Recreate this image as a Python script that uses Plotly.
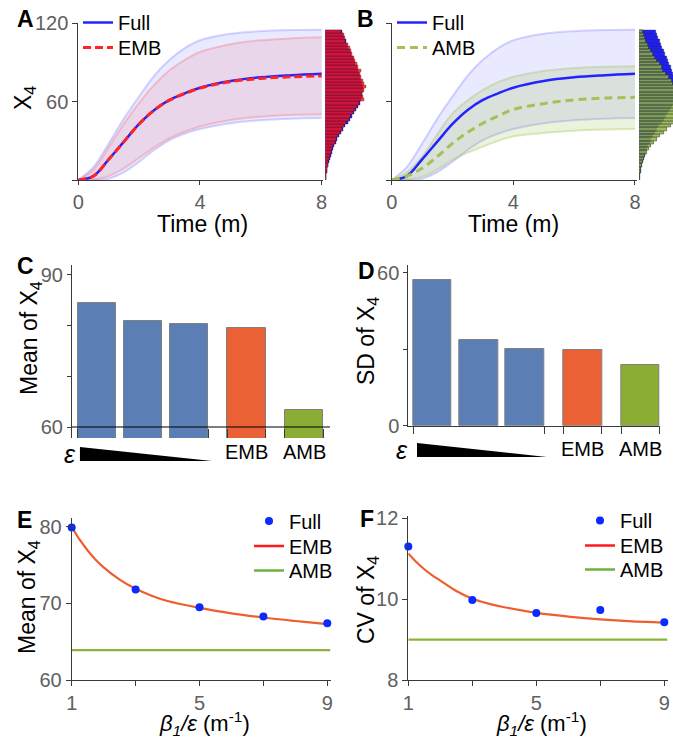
import plotly.graph_objects as go

W, H = 673, 738

# ---------------- data ----------------
T = [0, 0.5, 1, 1.5, 2, 2.5, 3, 3.5, 4, 5, 6, 7, 8]
FULL_MEAN = [0, 3, 15.8, 29.4, 42.9, 53.6, 61.3, 66.4, 70.7, 75.8, 78.6, 80.2, 81.4]
FULL_UPPER = [0, 10, 28, 47, 64, 80, 92, 101, 107, 112, 114, 114.8, 115]
FULL_LOWER = [0, 0, 1, 6, 14, 23, 30.5, 35.5, 39, 43.5, 45.8, 47, 47.4]
EMB_MEAN = [0, 3, 15.8, 29.4, 42.9, 53.6, 61.2, 66.2, 70.4, 75.3, 77.8, 79.0, 79.7]
EMB_UPPER = [0, 8, 25, 43, 59, 73, 84, 92, 98, 104, 107, 108.5, 109.3]
EMB_LOWER = [0, 0.5, 3, 9, 17, 25, 32, 37, 41, 46, 48.5, 49.8, 50.3]
AMB_MEAN = [0, 3, 9, 18, 28, 36.5, 43.5, 49, 54, 58.5, 61.3, 62.7, 63.3]
AMB_UPPER = [0, 6, 18, 35, 51, 61, 69, 75, 79, 83.5, 85.8, 86.8, 87.2]
AMB_LOWER = [0, 0.5, 2.6, 8, 15.4, 21, 25.6, 30, 33.3, 36, 37.7, 38.6, 39]

# histogram of X4 at t = 8 (bin centres, bottom to top) and bar lengths
HIST_BINS = [1.25, 3.75, 6.25, 8.75, 11.25, 13.75, 16.25, 18.75, 21.25, 23.75,
             26.25, 28.75, 31.25, 33.75, 36.25, 38.75, 41.25, 43.75, 46.25, 48.75,
             51.25, 53.75, 56.25, 58.75, 61.25, 63.75, 66.25, 68.75, 71.25, 73.75,
             76.25, 78.75, 81.25, 83.75, 86.25, 88.75, 91.25, 93.75, 96.25, 98.75,
             101.25, 103.75, 106.25, 108.75, 111.25, 113.75]
HIST_FULL = [0.5, 1, 1.5, 2, 2.5, 3.5, 4.5, 5.5, 6.5, 7.5, 9, 10.5, 12, 14, 16, 18,
             20, 22.5, 25, 27, 29, 31, 33, 35, 36, 36.5, 37, 37.5, 37.5, 37, 36, 35,
             34, 33, 31.5, 30, 29, 27.5, 26, 25, 23, 22, 20.5, 19, 18, 16.5]
HIST_EMB = [0.5, 1, 1.5, 2, 2.5, 3, 4, 5, 6, 7, 8, 9.5, 11, 12.5, 14.5, 16.5,
            18.5, 21, 23.5, 25, 27.5, 30, 32, 34, 38.5, 38, 37, 39, 40.5, 39, 38, 36,
            34.5, 36, 33, 32, 30, 28.5, 27, 26, 25, 23, 20, 20, 18.5, 15.5]
HIST_AMB = [0.5, 1, 1.5, 2, 2.5, 3.5, 4.5, 6, 7.5, 9.5, 12, 15, 18, 21, 25, 28,
            32, 35, 38, 40, 42, 43, 43.5, 43, 42, 41, 40, 38, 36, 34.3, 32.7, 30.3,
            27, 24.3, 22.7, 21, 17.7, 16, 14.3, 11.7, 10.3, 9.3, 6.7, 6, 5.3, 4.3]

BAR_LABELS = ["ε1", "ε2", "ε3", "EMB", "AMB"]
BAR_POS = [0, 1, 2, 3.25, 4.5]
MEAN_X4 = [84.5, 80.9, 80.3, 79.5, 63.4]
SD_X4 = [57.3, 33.6, 30.1, 29.7, 23.9]

RATIO_FULL = [1, 3, 5, 7, 9]
MEAN_FULL = [79.9, 71.8, 69.5, 68.3, 67.4]
CV_FULL = [11.30, 9.98, 9.66, 9.73, 9.43]
RATIO_CURVE = [1, 1.25, 1.5, 1.75, 2, 2.5, 3, 3.5, 4, 5, 6, 7, 8, 9, 9.1]
MEAN_EMB = [80.0, 78.3, 76.9, 75.7, 74.7, 73.1, 71.9, 71.0, 70.3, 69.4, 68.7, 68.15, 67.7, 67.3, 67.27]
CV_EMB = [11.13, 10.92, 10.74, 10.59, 10.46, 10.20, 10.01, 9.89, 9.80, 9.66, 9.57, 9.50, 9.45, 9.42, 9.415]
RATIO_SPAN = [1, 9.1]
MEAN_AMB = 63.9
CV_AMB = 9.0

# ---------------- style ----------------
FONT = "Liberation Sans, Arial, Helvetica, sans-serif"
TXT_GRAY = "#606060"
AX = "#3a3a3a"
BLUE = "#2323ff"
RED = "#ff2323"
GREEN_DASH = "#a3c253"
BAR_BLUE = "#5b7fb4"
BAR_RED = "#ea6136"
BAR_GREEN = "#8bad34"
CURVE_RED = "#ee5e2f"
CURVE_GREEN = "#8ab43c"
BAR_W = 0.83


def dx(px):
    return px / W


def dy(py):
    return 1 - py / H


fig = go.Figure()


def band(x, lo, hi, line_c, fill_c, xa, ya):
    fig.add_trace(go.Scatter(x=x, y=lo, mode="lines", line=dict(color=line_c, width=2, shape="spline"),
                             showlegend=False, hoverinfo="skip", xaxis=xa, yaxis=ya))
    fig.add_trace(go.Scatter(x=x, y=hi, mode="lines", line=dict(color=line_c, width=2, shape="spline"),
                             fill="tonexty", fillcolor=fill_c, showlegend=False, hoverinfo="skip",
                             xaxis=xa, yaxis=ya))


# ---- panel A ----
band(T, FULL_LOWER, FULL_UPPER, "rgba(70,70,255,0.22)", "rgba(70,70,255,0.12)", "x", "y")
band(T, EMB_LOWER, EMB_UPPER, "rgba(255,70,70,0.25)", "rgba(235,80,80,0.12)", "x", "y")
fig.add_trace(go.Scatter(x=T, y=FULL_MEAN, mode="lines", name="Full", line=dict(color=BLUE, width=2.5, shape="spline"),
                         xaxis="x", yaxis="y", legend="legend"))
fig.add_trace(go.Scatter(x=T, y=EMB_MEAN, mode="lines", name="EMB",
                         line=dict(color=RED, width=3, dash="8px,4px", shape="spline"),
                         xaxis="x", yaxis="y", legend="legend2"))
fig.add_trace(go.Bar(y=HIST_BINS, x=HIST_FULL, orientation="h", width=2.5, showlegend=False,
                     marker=dict(color="#1f1fff", line=dict(color="rgba(40,40,60,0.6)", width=0.6)),
                     xaxis="x2", yaxis="y2"))
fig.add_trace(go.Bar(y=HIST_BINS, x=HIST_EMB, orientation="h", width=2.5, showlegend=False, opacity=0.8,
                     marker=dict(color="#ff1010", line=dict(color="rgba(40,20,20,0.6)", width=0.6)),
                     xaxis="x2", yaxis="y2"))

# ---- panel B ----
band(T, FULL_LOWER, FULL_UPPER, "rgba(70,70,255,0.22)", "rgba(70,70,255,0.12)", "x3", "y3")
band(T, AMB_LOWER, AMB_UPPER, "rgba(150,190,60,0.3)", "rgba(150,190,60,0.18)", "x3", "y3")
fig.add_trace(go.Scatter(x=T, y=FULL_MEAN, mode="lines", name="Full", line=dict(color=BLUE, width=2.5, shape="spline"),
                         xaxis="x3", yaxis="y3", legend="legend3"))
fig.add_trace(go.Scatter(x=T, y=AMB_MEAN, mode="lines", name="AMB",
                         line=dict(color=GREEN_DASH, width=3, dash="8px,5px", shape="spline"),
                         xaxis="x3", yaxis="y3", legend="legend4"))
fig.add_trace(go.Bar(y=HIST_BINS, x=HIST_FULL, orientation="h", width=2.5, showlegend=False,
                     marker=dict(color="#1f1fff", line=dict(color="rgba(40,40,60,0.6)", width=0.6)),
                     xaxis="x4", yaxis="y4"))
fig.add_trace(go.Bar(y=HIST_BINS, x=HIST_AMB, orientation="h", width=2.5, showlegend=False, opacity=0.85,
                     marker=dict(color="#8fb040", line=dict(color="rgba(40,50,30,0.8)", width=0.8)),
                     xaxis="x4", yaxis="y4"))

# ---- panels C, D ----
BAR_COLORS = [BAR_BLUE, BAR_BLUE, BAR_BLUE, BAR_RED, BAR_GREEN]
fig.add_trace(go.Bar(x=BAR_POS, y=MEAN_X4, width=BAR_W, marker=dict(color=BAR_COLORS, line=dict(color="#808080", width=1)),
                     showlegend=False, hovertext=BAR_LABELS, xaxis="x5", yaxis="y5"))
fig.add_trace(go.Bar(x=BAR_POS, y=SD_X4, width=BAR_W, marker=dict(color=BAR_COLORS, line=dict(color="#808080", width=1)),
                     showlegend=False, hovertext=BAR_LABELS, xaxis="x6", yaxis="y6"))

# ---- panels E, F ----
for xa, ya, full, emb, amb, lgs in [("x7", "y7", MEAN_FULL, MEAN_EMB, MEAN_AMB, ("legend5", "legend6", "legend7")),
                                    ("x8", "y8", CV_FULL, CV_EMB, CV_AMB, ("legend8", "legend9", "legend10"))]:
    fig.add_trace(go.Scatter(x=RATIO_SPAN, y=[amb, amb], mode="lines", line=dict(color=CURVE_GREEN, width=2.2),
                             showlegend=False, xaxis=xa, yaxis=ya))
    fig.add_trace(go.Scatter(x=RATIO_CURVE, y=emb, mode="lines",
                             line=dict(color=CURVE_RED, width=2.2, shape="spline", smoothing=1.0),
                             showlegend=False, xaxis=xa, yaxis=ya))
    fig.add_trace(go.Scatter(x=RATIO_FULL, y=full, mode="markers", name="Full",
                             marker=dict(color="#0a2bff", size=8), cliponaxis=False,
                             xaxis=xa, yaxis=ya, legend=lgs[0]))
    fig.add_trace(go.Scatter(x=[None], y=[None], mode="lines", name="EMB", line=dict(color="#ff1a1a", width=2.5),
                             xaxis=xa, yaxis=ya, legend=lgs[1]))
    fig.add_trace(go.Scatter(x=[None], y=[None], mode="lines", name="AMB", line=dict(color="#6db33f", width=2.5),
                             xaxis=xa, yaxis=ya, legend=lgs[2]))

# ---------------- axes ----------------
tickfont = dict(size=20, color=TXT_GRAY, family=FONT)
base = dict(showgrid=False, zeroline=False, linecolor=AX, linewidth=1, tickcolor=AX, tickwidth=1,
            tickfont=tickfont, ticks="outside", ticklen=5, showline=True, fixedrange=True, automargin=False)
hidden = dict(visible=False, showgrid=False, zeroline=False, fixedrange=True)

edges = [BAR_POS[0] - BAR_W / 2, BAR_POS[2] + BAR_W / 2,
         BAR_POS[3] - BAR_W / 2, BAR_POS[3] + BAR_W / 2,
         BAR_POS[4] - BAR_W / 2, BAR_POS[4] + BAR_W / 2]


def minor(vals, length, side="outside"):
    return dict(tickmode="array", tickvals=vals, ticks=side, ticklen=length, tickcolor=AX, tickwidth=1, showgrid=False)


layout_axes = dict(
    xaxis=dict(base, domain=[dx(78.3), dx(323.2)], range=[0, 8.05], tickvals=[0, 4, 8], ticklen=4, anchor="y"),
    yaxis=dict(base, domain=[dy(180), dy(23.3)], range=[0, 120], tickvals=[60, 120],
               minor=minor([0], 5), anchor="x"),
    xaxis2=dict(hidden, domain=[dx(325.3), dx(367)], range=[0, 41.7], anchor="y2"),
    yaxis2=dict(hidden, domain=[dy(180), dy(23.3)], range=[0, 120], anchor="x2"),
    xaxis3=dict(base, domain=[dx(391.7), dx(636.5)], range=[0, 8.05], tickvals=[0, 4, 8], ticklen=4, anchor="y3"),
    yaxis3=dict(base, domain=[dy(180), dy(23.3)], range=[0, 120], tickvals=[], ticks="",
                minor=minor([0, 60, 120], 5), anchor="x3"),
    xaxis4=dict(hidden, domain=[dx(639), 1.0], range=[0, 34], anchor="y4"),
    yaxis4=dict(hidden, domain=[dy(180), dy(23.3)], range=[0, 120], anchor="x4"),
    xaxis5=dict(base, domain=[dx(72), dx(330)], range=[-0.543, 5.065], tickvals=[], ticks="",
                minor=minor(edges, 9, "inside"), showline=False, anchor="y5"),
    yaxis5=dict(base, domain=[dy(438), dy(265)], range=[57.83, 91.97], tickvals=[60, 90],
                ticklen=4, minor=minor([70, 80], 4), anchor="x5"),
    xaxis6=dict(base, domain=[dx(408.3), dx(660)], range=[-0.523, 4.92], tickvals=[], ticks="",
                minor=minor(edges, 7), anchor="y6"),
    yaxis6=dict(base, domain=[dy(425.7), dy(265)], range=[0, 63.1], tickvals=[0, 60],
                ticklen=4, minor=minor([30], 4), anchor="x6"),
    xaxis7=dict(base, domain=[dx(71.7), dx(330.5)], range=[1, 9.1], tickvals=[1, 5, 9],
                minor=minor([3, 7], 5), anchor="y7"),
    yaxis7=dict(base, domain=[dy(680), dy(517.5)], range=[60, 81.2], tickvals=[60, 70, 80], anchor="x7"),
    xaxis8=dict(base, domain=[dx(408.3), dx(667.5)], range=[1, 9.1], tickvals=[1, 5, 9],
                minor=minor([3, 7], 5), anchor="y8"),
    yaxis8=dict(base, domain=[dy(680), dy(516.3)], range=[8, 12.05], tickvals=[8, 10, 12], anchor="x8"),
)

LEG_OFF = 20  # px from legend top to first item centre
leg = dict(xanchor="left", yanchor="top", bgcolor="rgba(0,0,0,0)", borderwidth=0,
           font=dict(size=20, color="black", family=FONT), tracegroupgap=0, itemwidth=30)
legends = {}
for name, lx, cy in [("legend", 78, 23), ("legend2", 78, 48), ("legend3", 392, 23), ("legend4", 392, 48),
                     ("legend5", 249, 521.5), ("legend6", 249, 546.5), ("legend7", 249, 571),
                     ("legend8", 580, 521), ("legend9", 580, 546), ("legend10", 580, 570)]:
    legends[name] = dict(leg, x=dx(lx), y=dy(cy - LEG_OFF))

# ---------------- annotations ----------------
ann = []


def text(px, py, s, size=20, bold=False, angle=0, color="black"):
    ann.append(dict(x=dx(px), y=dy(py), xref="paper", yref="paper", text=("<b>%s</b>" % s) if bold else s,
                    showarrow=False, xanchor="center", yanchor="middle", textangle=angle,
                    font=dict(size=size, color=color, family=FONT)))


for lbl, px, py in [("A", 25, 19), ("B", 365, 19), ("C", 25, 266), ("D", 367, 271), ("E", 24, 520), ("F", 367, 519)]:
    text(px, py, lbl, size=23, bold=True)

text(25, 98, "X<sub>4</sub>", size=23, angle=-90)
text(202, 224, "Time (m)", size=23)
text(513, 224, "Time (m)", size=23)
text(31, 338, "Mean of X<sub>4</sub>", size=23, angle=-90)
text(367, 341, "SD of X<sub>4</sub>", size=23, angle=-90)
text(28, 597, "Mean of X<sub>4</sub>", size=23, angle=-90)
text(367, 600, "CV of X<sub>4</sub>", size=23, angle=-90)
text(205, 723, "<i>β<sub>1</sub>/ε</i> (m<sup>-1</sup>)", size=22)
text(541, 723, "<i>β<sub>1</sub>/ε</i> (m<sup>-1</sup>)", size=22)

# category labels under C and D
for xa, py, eps_px, eps_py in [("x5", 452, 70, 454), ("x6", 449, 402, 450)]:
    for lbl, pos in zip(BAR_LABELS[3:], BAR_POS[3:]):
        ann.append(dict(x=pos, y=dy(py), xref=xa, yref="paper", text=lbl, showarrow=False,
                        xanchor="center", yanchor="middle", font=dict(size=20, color="black", family=FONT)))
    text(eps_px, eps_py, "<i>ε</i>", size=25)

# epsilon wedges (decreasing epsilon)
shapes = [
    dict(type="line", xref="x5 domain", yref="y5", x0=0, x1=1, y0=60, y1=60, line=dict(color="black", width=1.2)),
    dict(type="path", xref="x5", yref="paper", path="M -0.37,%f L -0.37,%f L 2.5,%f Z" % (dy(447), dy(461), dy(461)),
         fillcolor="black", line=dict(width=0)),
    dict(type="path", xref="x6", yref="paper", path="M -0.335,%f L -0.335,%f L 2.47,%f Z" % (dy(443), dy(457), dy(457)),
         fillcolor="black", line=dict(width=0)),
]

fig.update_layout(
    width=W, height=H, margin=dict(l=0, r=0, t=0, b=0, autoexpand=False),
    paper_bgcolor="white", plot_bgcolor="rgba(0,0,0,0)",
    barmode="overlay", bargap=0, hovermode=False,
    font=dict(family=FONT, size=20, color="black"),
    annotations=ann, shapes=shapes,
    **legends,
    **layout_axes,
)

fig.write_html("out.html", config={"displayModeBar": False},
               post_script="document.body.style.margin='0';")
